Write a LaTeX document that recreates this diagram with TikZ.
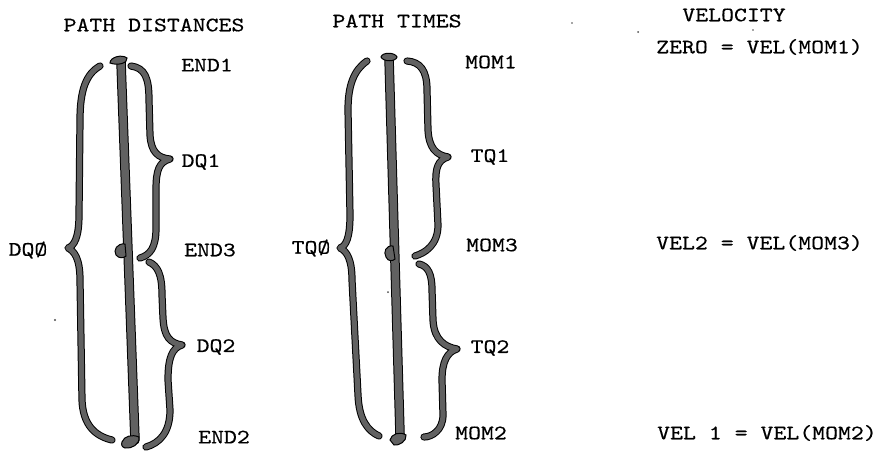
\documentclass[tikz,border=0pt]{standalone}
\usepackage{fontspec}
\newfontfamily\tw{lmmono10-regular.otf}[FakeStretch=1.2,FakeBold=0.4]
\begin{document}
\begin{tikzpicture}[x=1pt,y=-1pt,
  lbl/.style={font=\tw\fontsize{20.5}{22}\selectfont, inner sep=0pt, text=black},
  bracestroke/.style={draw=black, line width=1pt, double=black!62, double distance=5.2pt, line cap=round, line join=round},
  rodstroke/.style={draw=black, line width=1pt, double=black!62, double distance=7.5pt, line cap=round},
  knob/.style={draw=black, line width=1pt, fill=black!62},
  speck/.style={fill=black!70}]
\useasboundingbox (0,0) rectangle (882,453);

% ---- column headings ----
\node[lbl] (hd) at (154,25) {PATH DISTANCES};
\node[lbl] (ht) at (397,21) {PATH TIMES};
\node[lbl] (hv) at (734,15) {VELOCITY};

% ---- distance labels ----
\node[lbl] (end1) at (207,65) {END1};
\node[lbl] (dq1)  at (201,162) {DQ1};
\node[lbl] (end3) at (210,250) {END3};
\node[lbl] (dq2)  at (216,347) {DQ2};
\node[lbl] (end2) at (224,437) {END2};
\node[lbl] (dq0)  at (28,250) {DQØ};

% ---- time labels ----
\node[lbl] (mom1) at (491,62) {MOM1};
\node[lbl] (tq1)  at (490,157) {TQ1};
\node[lbl] (mom3) at (492,245) {MOM3};
\node[lbl] (tq2)  at (490,348) {TQ2};
\node[lbl] (mom2) at (481,433) {MOM2};
\node[lbl] (tq0)  at (311,248) {TQØ};

% ---- velocity equations ----
\node[lbl, anchor=west] (v0) at (656,47)  {ZERO = VEL(MOM1)};
\node[lbl, anchor=west] (v2) at (656,243) {VEL2 = VEL(MOM3)};
\node[lbl, anchor=west] (v1) at (657,433) {VEL 1 = VEL(MOM2)};

% ---- distance axis: rod with end and middle knobs ----
\coordinate (dtop) at (121,62);
\coordinate (dbot) at (135,440);
\draw[rodstroke] (dtop) -- (dbot);
\draw[knob] (110,63) .. controls (110,57) and (122,54) .. (127,58) .. controls (128,63) and (118,66) .. cycle;
\draw[knob] (125,244) .. controls (117,243) and (113,250) .. (116,255) .. controls (119,259) and (124,258) .. (126,256) -- cycle;
\draw[knob] (122,442) .. controls (124,436) and (132,434) .. (139,437) .. controls (140,444) and (132,449) .. (125,448) .. controls (122,447) and (121,445) .. cycle;

% whole path DQ0
\draw[bracestroke] (100,66) .. controls (86,74) and (80,90) .. (80,120) -- (79,215)
  .. controls (79,238) and (74,246) .. (68,248)
  .. controls (74,251) and (80,258) .. (80,280) -- (82,400)
  .. controls (83,425) and (95,436) .. (112,440);
% first leg DQ1
\draw[bracestroke] (131,66) .. controls (145,68) and (149,78) .. (149,100) -- (150,135)
  .. controls (151,152) and (158,158) .. (170,159)
  .. controls (159,162) and (156,170) .. (156,190) -- (156,228)
  .. controls (156,248) and (150,255) .. (140,258);
% second leg DQ2
\draw[bracestroke] (149,262) .. controls (158,266) and (162,275) .. (162,295) -- (163,318)
  .. controls (164,337) and (170,343) .. (182,345)
  .. controls (172,348) and (168,358) .. (168,380) -- (170,410)
  .. controls (170,432) and (160,443) .. (146,447);

% ---- time axis: rod with end and middle knobs ----
\coordinate (ttop) at (389,58);
\coordinate (tbot) at (400,434);
\draw[rodstroke] (ttop) -- (tbot);
\draw[knob] (381,57) .. controls (382,52) and (395,52) .. (397,57) .. controls (396,62) and (383,62) .. cycle;
\draw[knob] (393,246) .. controls (386,245) and (383,252) .. (386,257) .. controls (388,262) and (393,261) .. (395,259) -- cycle;
\draw[knob] (390,440) .. controls (391,434) and (400,431) .. (406,435) .. controls (407,441) and (399,446) .. (394,445) -- cycle;

% whole time TQ0
\draw[bracestroke] (367,61) .. controls (354,70) and (348,85) .. (348,110) -- (350,215)
  .. controls (350,238) and (346,246) .. (340,248)
  .. controls (347,251) and (352,260) .. (352,280) -- (358,395)
  .. controls (359,420) and (368,431) .. (379,436);
% first interval TQ1
\draw[bracestroke] (407,61) .. controls (420,62) and (427,70) .. (427,90) -- (428,130)
  .. controls (429,148) and (436,155) .. (448,157)
  .. controls (438,160) and (435,168) .. (436,185) -- (438,225)
  .. controls (438,245) and (425,253) .. (415,256);
% second interval TQ2
\draw[bracestroke] (419,264) .. controls (428,266) and (432,274) .. (432,290) -- (433,320)
  .. controls (434,340) and (445,347) .. (457,349)
  .. controls (447,352) and (442,362) .. (442,380) -- (443,415)
  .. controls (443,430) and (432,437) .. (424,437);

% ---- stray marks ----
\fill[speck] (55,320) circle (1.1);
\fill[speck] (388,292) circle (1.0);
\fill[speck] (572,23) circle (0.9);
\fill[speck] (638,32) circle (1.0);
\fill[speck] (753,30) circle (0.8);
\end{tikzpicture}
\end{document}
